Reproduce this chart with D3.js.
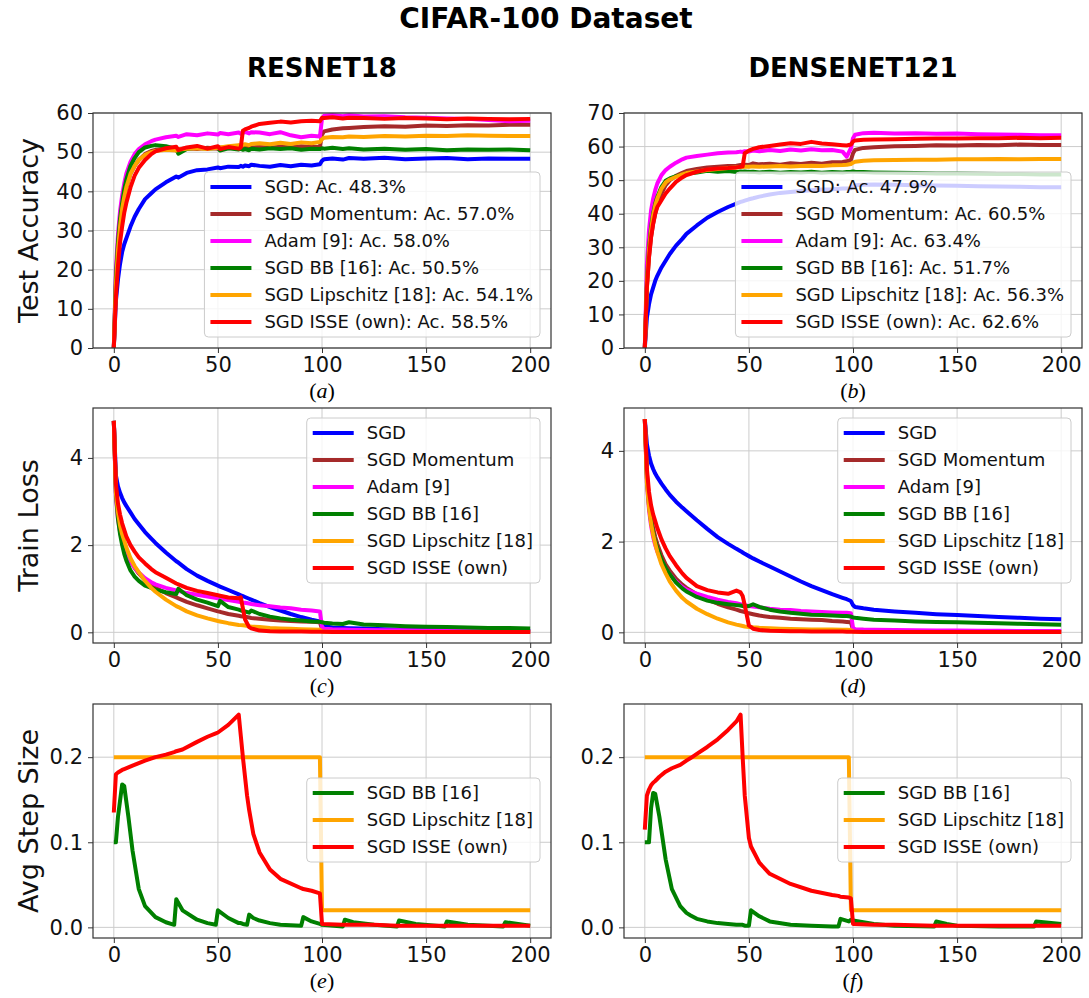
<!DOCTYPE html>
<html>
<head>
<meta charset="utf-8">
<script src="https://cdn.jsdelivr.net/npm/d3@7"></script>
<style>
  body { margin: 0; background: #fff; }
  svg { font-family: "DejaVu Sans", sans-serif; }
</style>
</head>
<body>
<svg id="fig" width="1089" height="998"></svg>
<script>
// ---- tick labels / names ----
const xTicks = [0, 50, 100, 150, 200];
const accTicksRes = [0, 10, 20, 30, 40, 50, 60];
const accTicksDense = [0, 10, 20, 30, 40, 50, 60, 70];
const lossTicks = [0, 2, 4];
const stepTicks = [0, 0.1, 0.2];

const lossNames = ["SGD", "SGD Momentum", "Adam [9]", "SGD BB [16]", "SGD Lipschitz [18]", "SGD ISSE (own)"];
const resAccNames = ["SGD: Ac. 48.3%", "SGD Momentum: Ac. 57.0%", "Adam [9]: Ac. 58.0%", "SGD BB [16]: Ac. 50.5%", "SGD Lipschitz [18]: Ac. 54.1%", "SGD ISSE (own): Ac. 58.5%"];
const denseAccNames = ["SGD: Ac. 47.9%", "SGD Momentum: Ac. 60.5%", "Adam [9]: Ac. 63.4%", "SGD BB [16]: Ac. 51.7%", "SGD Lipschitz [18]: Ac. 56.3%", "SGD ISSE (own): Ac. 62.6%"];
const stepNames = ["SGD BB [16]", "SGD Lipschitz [18]", "SGD ISSE (own)"];

// ---- epochs ----
const resEpochs = [0,1,2,3,4,5,6,8,10,12,15,18,20,25,30,31,35,40,45,50,51,55,60,61,62,63,65,66,70,75,80,85,90,95,99,100,101,105,110,113,120,130,140,150,160,170,180,190,200];
const denseEpochs = [0,1,2,3,4,5,6,8,10,12,15,18,20,25,30,35,40,44,46,47,48,50,52,55,60,65,70,75,80,85,90,95,97,99,100,101,105,110,120,130,140,150,160,170,180,190,200];
const stepResEpochs = [0,1,2,4,5,7,9,12,15,20,25,29,30,33,40,45,49,50,55,60,61,62,64,65,67,70,75,80,90,91,95,99,100,110,111,115,125,136,137,145,159,160,170,187,188,200];
const stepDenseEpochs = [0,1,2,3,4,5,7,10,13,17,20,22,25,30,35,40,44,46,47,48,50,51,55,60,70,80,90,93,94,98,99,100,110,120,139,140,145,150,170,187,188,200];

// ---- (a) ResNet18 test accuracy ----
const resAccSgd = [0,12,17.5,21.5,24.5,26.5,28,31,33.5,35.5,38,39.5,40.5,42.3,43.8,43.5,44.7,45.4,45.6,46.1,45.9,46.3,46.2,46.5,46.3,46.6,46.4,46.8,46.5,46.3,46.7,46.4,46.8,46.6,46.9,47.8,48.2,48.4,48.1,48.5,48.3,48.6,48.2,48.4,48.5,48.2,48.4,48.3,48.3];
const resAccMom = [0,16,25,31,35,38.5,41,44.5,46.5,48,49.5,50.3,50.6,50.9,50.5,50.8,51.0,50.8,51.1,50.9,51.2,51.0,51.2,50.9,51.1,51.3,51.0,51.2,51.3,51.1,51.4,51.2,51.5,51.3,51.4,54.5,55.3,55.8,56.1,56.2,56.4,56.6,56.5,56.8,56.7,56.9,56.8,57.0,57.0];
const resAccAdam = [0,20,29,35,39,42,44.5,47.5,49.5,50.8,52,52.8,53.2,53.8,54.2,53.9,54.6,54.3,54.8,54.5,54.9,54.6,55.0,54.7,54.9,55.2,54.8,55.1,55.0,54.6,55.1,54.3,53.8,54.2,54.0,58.5,59.3,59.5,59.2,59.4,59.1,59.2,58.9,58.8,58.6,58.5,58.2,57.9,58.0];
const resAccBB = [0,18,27,33,37,40.5,43,46.5,48.5,50,51.2,51.6,51.8,51.5,50.8,49.6,50.8,51.2,50.9,51.1,50.4,51.0,50.7,50.9,50.6,50.8,50.5,50.9,50.7,51.0,50.8,51.0,50.6,50.9,50.8,51.0,50.9,51.1,50.8,51.0,50.7,50.9,50.6,50.8,50.5,50.7,50.6,50.7,50.5];
const resAccLip = [0,16,25,31,35.5,38.5,41,44.5,46.5,48,49.3,50,50.3,50.6,50.4,50.7,50.9,51.0,50.8,51.1,51.2,51.5,51.8,51.6,51.9,52.0,51.8,52.1,52.3,52.0,52.4,52.1,52.5,52.3,52.6,53.3,53.7,53.9,53.8,54.0,53.9,54.1,54.0,54.2,54.1,54.3,54.2,54.1,54.1];
const resAccIsse = [0,13,21,27,31,34.5,37,41,44,46,48,49.5,50.2,51,51.4,50.5,51.2,51.6,50.9,51.5,50.8,51.3,50.9,51.2,55.5,55.8,56.2,56.5,57.2,57.5,57.8,57.6,57.9,58.0,57.9,58.8,58.7,58.9,58.6,58.8,58.7,58.5,58.7,58.6,58.4,58.6,58.5,58.4,58.5];

// ---- (b) DenseNet121 test accuracy ----
const denseAccSgd = [0,9,13,16,18,20,21.5,24,26,28,30.5,32.5,34,36.5,38.8,40.5,42,43,43.5,43.7,43.9,44.3,44.6,45.1,45.7,46.2,46.5,46.8,47.0,47.2,47.3,47.5,47.5,47.6,48.2,48.5,48.6,48.7,48.6,48.5,48.4,48.3,48.2,48.1,48.0,47.9,47.9];
const denseAccMom = [0,18,27,33,37,40,42.5,46,48.5,50,51.3,52.2,52.7,53.3,53.8,54.0,54.2,54.3,54.5,54.4,54.6,54.5,55.0,54.7,54.9,54.6,55.0,54.8,55.2,54.9,55.3,55.4,55.6,56.0,58.0,59.0,59.6,59.8,60.1,60.2,60.4,60.3,60.5,60.4,60.6,60.5,60.5];
const denseAccAdam = [0,25,35,41,44.5,47,49,51.5,53,54,55.2,56.2,56.7,57.2,57.6,58.0,58.2,58.3,58.5,58.4,58.6,58.5,58.8,58.6,59.0,58.7,59.1,58.8,59.2,58.9,59.0,58.5,57.0,59.5,62.5,63.5,64.0,64.1,63.9,64.0,63.8,63.9,63.7,63.6,63.5,63.4,63.4];
const denseAccBB = [0,20,30,36,40,43,45,48,49.8,50.5,51.2,51.6,52.0,52.3,52.8,52.5,52.7,52.4,52.6,52.5,52.6,52.4,52.5,52.3,52.5,52.2,52.4,52.3,52.5,52.2,52.4,52.3,52.4,52.5,52.6,52.5,52.4,52.3,52.2,52.1,52.0,52.0,51.9,51.8,51.8,51.7,51.7];
const denseAccLip = [0,19,29,35,39.5,42.5,44.5,47.5,49.3,50.2,51,51.7,52.1,52.6,53.0,53.3,53.6,53.8,53.9,53.9,54.0,54.0,54.1,54.0,54.1,54.2,54.1,54.2,54.3,54.2,54.4,54.5,54.6,54.8,55.2,55.5,55.8,55.9,56.0,56.1,56.1,56.2,56.2,56.3,56.2,56.3,56.3];
const denseAccIsse = [0,18,27,33,37,40,42,44,46,47.5,49.5,50.8,51.5,52.5,53.2,53.5,53.6,53.8,54.0,54.1,58.0,58.8,59.3,59.8,60.2,60.6,61.0,60.8,61.4,60.9,60.7,60.4,60.3,60.6,61.5,61.8,62.0,62.1,62.2,62.3,62.4,62.4,62.5,62.5,62.6,62.5,62.6];

// ---- (c) ResNet18 train loss ----
const resLossSgd = [4.85,3.6,3.35,3.2,3.08,2.98,2.9,2.75,2.6,2.48,2.3,2.15,2.05,1.83,1.63,1.6,1.45,1.3,1.18,1.07,1.05,0.97,0.87,0.85,0.83,0.81,0.77,0.75,0.67,0.58,0.5,0.42,0.35,0.29,0.25,0.2,0.14,0.11,0.1,0.095,0.085,0.07,0.06,0.055,0.05,0.045,0.04,0.035,0.03];
const resLossMom = [4.85,3.3,2.8,2.5,2.25,2.05,1.9,1.65,1.48,1.35,1.2,1.08,1.02,0.9,0.8,0.78,0.7,0.62,0.55,0.48,0.47,0.42,0.38,0.37,0.36,0.36,0.34,0.33,0.31,0.29,0.27,0.26,0.25,0.24,0.23,0.08,0.05,0.04,0.035,0.03,0.028,0.025,0.022,0.02,0.018,0.017,0.016,0.015,0.015];
const resLossAdam = [4.85,3.1,2.6,2.3,2.1,1.95,1.82,1.62,1.48,1.37,1.24,1.15,1.1,1.02,0.96,0.95,0.9,0.86,0.82,0.78,0.77,0.74,0.7,0.69,0.68,0.68,0.66,0.65,0.62,0.6,0.57,0.55,0.52,0.5,0.48,0.12,0.08,0.07,0.065,0.06,0.055,0.05,0.045,0.04,0.04,0.035,0.035,0.03,0.03];
const resLossBB = [4.85,3.2,2.6,2.25,2.0,1.8,1.65,1.42,1.28,1.18,1.07,1.02,0.98,0.92,0.88,1.0,0.85,0.75,0.68,0.6,0.72,0.58,0.52,0.5,0.49,0.48,0.45,0.5,0.42,0.36,0.32,0.29,0.27,0.25,0.24,0.23,0.22,0.2,0.19,0.23,0.18,0.16,0.14,0.13,0.12,0.11,0.1,0.1,0.09];
const resLossLip = [4.85,3.2,2.75,2.45,2.25,2.1,1.95,1.7,1.52,1.38,1.18,1.02,0.93,0.75,0.6,0.58,0.48,0.39,0.32,0.26,0.25,0.21,0.17,0.165,0.16,0.155,0.14,0.135,0.12,0.1,0.09,0.08,0.07,0.065,0.06,0.02,0.015,0.012,0.01,0.01,0.009,0.008,0.007,0.006,0.006,0.005,0.005,0.005,0.005];
const resLossIsse = [4.85,3.4,2.95,2.7,2.5,2.35,2.2,2.0,1.85,1.72,1.58,1.45,1.38,1.25,1.12,1.1,1.02,0.95,0.9,0.85,0.84,0.8,0.78,0.8,0.55,0.3,0.12,0.09,0.04,0.025,0.02,0.018,0.016,0.015,0.014,0.012,0.011,0.01,0.01,0.009,0.009,0.008,0.008,0.007,0.007,0.006,0.006,0.006,0.006];

// ---- (d) DenseNet121 train loss ----
const denseLossSgd = [4.7,4.15,3.9,3.72,3.6,3.5,3.42,3.28,3.15,3.03,2.88,2.75,2.67,2.47,2.28,2.1,1.95,1.84,1.79,1.76,1.73,1.68,1.63,1.56,1.45,1.34,1.23,1.12,1.02,0.93,0.84,0.76,0.73,0.69,0.6,0.56,0.53,0.5,0.46,0.43,0.4,0.38,0.36,0.34,0.32,0.3,0.29];
const denseLossMom = [4.7,3.5,2.9,2.55,2.3,2.1,1.95,1.7,1.5,1.36,1.18,1.05,0.98,0.84,0.72,0.63,0.55,0.5,0.47,0.46,0.45,0.42,0.4,0.37,0.34,0.32,0.3,0.29,0.28,0.27,0.25,0.24,0.23,0.22,0.06,0.04,0.035,0.03,0.025,0.022,0.02,0.018,0.017,0.016,0.015,0.015,0.014];
const denseLossAdam = [4.7,3.3,2.7,2.35,2.1,1.92,1.78,1.56,1.4,1.28,1.12,1.0,0.94,0.85,0.78,0.72,0.67,0.64,0.62,0.61,0.6,0.58,0.57,0.55,0.52,0.5,0.49,0.47,0.46,0.45,0.44,0.43,0.43,0.42,0.1,0.07,0.06,0.055,0.05,0.045,0.04,0.04,0.035,0.035,0.03,0.03,0.03];
const denseLossBB = [4.7,3.4,2.8,2.45,2.2,2.0,1.85,1.6,1.42,1.28,1.1,0.97,0.9,0.78,0.7,0.65,0.62,0.6,0.59,0.58,0.57,0.58,0.62,0.56,0.5,0.46,0.43,0.41,0.39,0.38,0.37,0.36,0.36,0.35,0.33,0.32,0.3,0.28,0.26,0.24,0.23,0.22,0.21,0.2,0.19,0.18,0.17];
const denseLossLip = [4.7,3.3,2.75,2.4,2.15,1.95,1.78,1.5,1.3,1.12,0.92,0.76,0.68,0.52,0.4,0.3,0.22,0.17,0.15,0.14,0.13,0.12,0.11,0.1,0.09,0.08,0.075,0.07,0.065,0.06,0.06,0.055,0.055,0.05,0.02,0.012,0.01,0.009,0.008,0.007,0.006,0.006,0.005,0.005,0.005,0.005,0.005];
const denseLossIsse = [4.7,3.6,3.1,2.8,2.6,2.45,2.3,2.05,1.85,1.68,1.48,1.3,1.2,1.02,0.93,0.88,0.85,0.92,0.88,0.8,0.6,0.15,0.08,0.05,0.035,0.03,0.025,0.022,0.02,0.018,0.017,0.016,0.015,0.015,0.012,0.011,0.01,0.01,0.009,0.009,0.008,0.008,0.007,0.007,0.006,0.006,0.006];

// ---- (e) ResNet18 step size ----
const stepResBB = [0.1,0.1,0.13,0.168,0.166,0.13,0.09,0.045,0.025,0.012,0.006,0.003,0.033,0.02,0.009,0.005,0.003,0.02,0.011,0.005,0.005,0.004,0.003,0.015,0.011,0.008,0.005,0.003,0.002,0.012,0.007,0.004,0.003,0.001,0.009,0.006,0.003,0.001,0.008,0.004,0.001,0.007,0.003,0.001,0.006,0.002];
const stepResLip = [0.2,0.2,0.2,0.2,0.2,0.2,0.2,0.2,0.2,0.2,0.2,0.2,0.2,0.2,0.2,0.2,0.2,0.2,0.2,0.2,0.2,0.2,0.2,0.2,0.2,0.2,0.2,0.2,0.2,0.2,0.2,0.2,0.02,0.02,0.02,0.02,0.02,0.02,0.02,0.02,0.02,0.02,0.02,0.02,0.02,0.02];
const stepResIsse = [0.135,0.18,0.182,0.185,0.186,0.188,0.19,0.193,0.196,0.2,0.203,0.206,0.207,0.209,0.218,0.224,0.228,0.229,0.238,0.25,0.225,0.2,0.155,0.138,0.11,0.088,0.068,0.057,0.046,0.045,0.043,0.04,0.004,0.003,0.003,0.003,0.003,0.002,0.002,0.002,0.002,0.002,0.002,0.002,0.002,0.002];

// ---- (f) DenseNet121 step size ----
const stepDenseBB = [0.1,0.1,0.1,0.14,0.158,0.157,0.13,0.08,0.045,0.025,0.017,0.014,0.01,0.007,0.005,0.004,0.003,0.003,0.003,0.002,0.002,0.02,0.013,0.007,0.003,0.002,0.001,0.001,0.01,0.007,0.009,0.008,0.004,0.002,0.001,0.007,0.004,0.002,0.001,0.001,0.007,0.004];
const stepDenseLip = [0.2,0.2,0.2,0.2,0.2,0.2,0.2,0.2,0.2,0.2,0.2,0.2,0.2,0.2,0.2,0.2,0.2,0.2,0.2,0.2,0.2,0.2,0.2,0.2,0.2,0.2,0.2,0.2,0.2,0.2,0.02,0.02,0.02,0.02,0.02,0.02,0.02,0.02,0.02,0.02,0.02,0.02];
const stepDenseIsse = [0.115,0.155,0.162,0.167,0.17,0.172,0.177,0.183,0.187,0.191,0.196,0.199,0.204,0.212,0.221,0.232,0.242,0.25,0.2,0.155,0.105,0.095,0.076,0.063,0.051,0.043,0.038,0.037,0.036,0.035,0.034,0.004,0.003,0.003,0.002,0.002,0.002,0.002,0.002,0.002,0.002,0.002];

// ---- layout ----
const colors6 = ["#0000ff", "#a52a2a", "#ff00ff", "#008000", "#ffa500", "#ff0000"];
const colors3 = ["#008000", "#ffa500", "#ff0000"];
const cols = [{left: 93, right: 551}, {left: 624, right: 1082}];
const rows = [{top: 113, bottom: 348}, {top: 408, bottom: 643}, {top: 704, bottom: 938}];

const panels = [
  {col: 0, row: 0, tag: "a", epochs: resEpochs, series: [resAccSgd, resAccMom, resAccAdam, resAccBB, resAccLip, resAccIsse],
   names: resAccNames, colors: colors6, yDomain: [0, 60], yTicks: accTicksRes, fmt: d3.format("d"), ylabel: "Test Accuracy", legendTop: 59},
  {col: 1, row: 0, tag: "b", epochs: denseEpochs, series: [denseAccSgd, denseAccMom, denseAccAdam, denseAccBB, denseAccLip, denseAccIsse],
   names: denseAccNames, colors: colors6, yDomain: [0, 70], yTicks: accTicksDense, fmt: d3.format("d"), legendTop: 59},
  {col: 0, row: 1, tag: "c", epochs: resEpochs, series: [resLossSgd, resLossMom, resLossAdam, resLossBB, resLossLip, resLossIsse],
   names: lossNames, colors: colors6, yDomain: [-0.245, 5.145], yTicks: lossTicks, fmt: d3.format("d"), ylabel: "Train Loss", legendTop: 10},
  {col: 1, row: 1, tag: "d", epochs: denseEpochs, series: [denseLossSgd, denseLossMom, denseLossAdam, denseLossBB, denseLossLip, denseLossIsse],
   names: lossNames, colors: colors6, yDomain: [-0.235, 4.945], yTicks: lossTicks, fmt: d3.format("d"), legendTop: 10},
  {col: 0, row: 2, tag: "e", epochs: stepResEpochs, series: [stepResBB, stepResLip, stepResIsse],
   names: stepNames, colors: colors3, yDomain: [-0.0125, 0.2625], yTicks: stepTicks, fmt: d3.format(".1f"), ylabel: "Avg Step Size", legendTop: 74},
  {col: 1, row: 2, tag: "f", epochs: stepDenseEpochs, series: [stepDenseBB, stepDenseLip, stepDenseIsse],
   names: stepNames, colors: colors3, yDomain: [-0.0125, 0.2625], yTicks: stepTicks, fmt: d3.format(".1f"), legendTop: 74}
];

const svg = d3.select("#fig");
svg.append("rect").attr("width", 1089).attr("height", 998).attr("fill", "#fff");

svg.append("text").attr("x", 546).attr("y", 28).attr("text-anchor", "middle")
  .attr("font-size", 28).attr("font-weight", "bold").text("CIFAR-100 Dataset");
svg.append("text").attr("x", 322).attr("y", 77).attr("text-anchor", "middle")
  .attr("font-size", 26).attr("font-weight", "bold").text("RESNET18");
svg.append("text").attr("x", 853).attr("y", 77).attr("text-anchor", "middle")
  .attr("font-size", 26).attr("font-weight", "bold").text("DENSENET121");

const drawPanel = (p) => {
  const c = cols[p.col], r = rows[p.row];
  const w = c.right - c.left, h = r.bottom - r.top;
  const x = d3.scaleLinear().domain([-10, 210]).range([0, w]);
  const y = d3.scaleLinear().domain(p.yDomain).range([h, 0]);
  const g = svg.append("g").attr("transform", "translate(" + c.left + "," + r.top + ")");

  // grid
  g.selectAll(".vgrid").data(xTicks).join("line").attr("class", "vgrid")
    .attr("x1", d => x(d)).attr("x2", d => x(d)).attr("y1", 0).attr("y2", h)
    .attr("stroke", "#cccccc").attr("stroke-width", 1);
  g.selectAll(".hgrid").data(p.yTicks).join("line").attr("class", "hgrid")
    .attr("x1", 0).attr("x2", w).attr("y1", d => y(d)).attr("y2", d => y(d))
    .attr("stroke", "#cccccc").attr("stroke-width", 1);

  // series
  const line = d3.line().x((d, i) => x(p.epochs[i])).y(d => y(d));
  p.series.forEach((s, k) => {
    g.append("path").datum(s).attr("d", line)
      .attr("fill", "none").attr("stroke", p.colors[k]).attr("stroke-width", 4)
      .attr("stroke-linejoin", "round");
  });

  // axes
  const xa = g.append("g").attr("transform", "translate(0," + h + ")")
    .call(d3.axisBottom(x).tickValues(xTicks).tickSize(5).tickPadding(4));
  const ya = g.append("g")
    .call(d3.axisLeft(y).tickValues(p.yTicks).tickFormat(p.fmt).tickSize(5).tickPadding(5));
  [xa, ya].forEach(a => {
    a.select(".domain").remove();
    a.attr("font-size", 21).attr("font-family", "DejaVu Sans");
    a.selectAll("line").attr("stroke", "#333");
    a.selectAll("text").attr("fill", "#111");
  });

  g.append("rect").attr("width", w).attr("height", h)
    .attr("fill", "none").attr("stroke", "#333").attr("stroke-width", 1.2);

  // legend
  const lg = g.append("g");
  const box = lg.append("rect").attr("rx", 4)
    .attr("fill", "#fff").attr("fill-opacity", 0.8).attr("stroke", "#cccccc");
  const items = lg.selectAll(".item").data(p.names).join("g").attr("class", "item")
    .attr("transform", (d, i) => "translate(0," + (15 + i * 27) + ")");
  items.append("line").attr("x1", 6).attr("x2", 47).attr("y1", 0).attr("y2", 0)
    .attr("stroke", (d, i) => p.colors[i]).attr("stroke-width", 4);
  items.append("text").attr("x", 60).attr("dy", "0.35em").attr("font-size", 18)
    .attr("fill", "#111").text(d => d);
  let maxW = 0;
  items.selectAll("text").each(function () { maxW = Math.max(maxW, this.getComputedTextLength()); });
  const boxW = 60 + maxW + 7, boxH = 30 + (p.names.length - 1) * 27;
  box.attr("width", boxW).attr("height", boxH);
  lg.attr("transform", "translate(" + (w - 11 - boxW) + "," + p.legendTop + ")");

  // y label
  if (p.ylabel) {
    const cy = r.top + h / 2;
    svg.append("text").attr("transform", "translate(38," + cy + ") rotate(-90)")
      .attr("text-anchor", "middle").attr("font-size", 27).attr("fill", "#111").text(p.ylabel);
  }

  // subplot tag
  const tag = svg.append("text").attr("x", c.left + w / 2).attr("y", r.bottom + 50)
    .attr("text-anchor", "middle").attr("font-family", "Liberation Serif").attr("font-size", 22);
  tag.append("tspan").text("(");
  tag.append("tspan").attr("font-style", "italic").text(p.tag);
  tag.append("tspan").text(")");
};

panels.forEach(drawPanel);
</script>
</body>
</html>
